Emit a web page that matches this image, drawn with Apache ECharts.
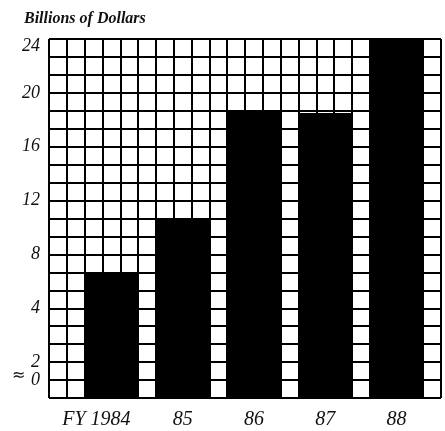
<!DOCTYPE html>
<html>
<head>
<meta charset="utf-8">
<script src="https://cdn.jsdelivr.net/npm/echarts@6/dist/echarts.min.js"></script>
<style>
  html, body { margin: 0; padding: 0; background: #fff; }
  #chart { width: 445px; height: 431px; }
</style>
</head>
<body>
<div id="chart"></div>
<script>
// Fiscal years and outlays (billions of dollars)
const years = ['FY 1984', '85', '86', '87', '88'];
const outlays = [6.6, 10.7, 18.6, 18.5, 24.0];

// Value-axis tick labels; the bottom of the scale is broken (≈)
const yTickValues = [24, 20, 16, 12, 8, 4, 0, -4 / 3];
const yTickLabels = ['24', '20', '16', '12', '8', '4', '2', '0'];

// Background lattice: 22 columns by 20 rows
const latticeCols = 22;
const latticeRows = 20;

const plot = { left: 49, top: 39, width: 392, height: 359 };
const cell = plot.width / latticeCols;
const serif = '"Liberation Serif", "DejaVu Serif", serif';

const chart = echarts.init(document.getElementById('chart'), null, { renderer: 'canvas' });

chart.setOption({
  animation: false,
  backgroundColor: '#fff',
  title: {
    text: 'Billions of Dollars',
    left: 19,
    top: 6,
    textStyle: { fontFamily: serif, fontStyle: 'italic', fontWeight: 'bold', fontSize: 16, color: '#111' }
  },
  graphic: [{
    type: 'text',
    left: 12,
    top: 368,
    style: { text: '\u2248', font: '16px "DejaVu Sans", sans-serif', fill: '#111' }
  }],
  grid: [
    { left: plot.left, top: plot.top, width: plot.width, height: plot.height },
    { left: plot.left + 1.5 * cell, top: plot.top, width: (latticeCols - 2) * cell, height: plot.height }
  ],
  xAxis: [
    {
      gridIndex: 0, type: 'value', min: 0, max: latticeCols, interval: 1,
      axisLine: { show: false }, axisTick: { show: false }, axisLabel: { show: false },
      splitLine: { show: true, lineStyle: { color: '#000', width: 2 } }
    },
    {
      gridIndex: 1, type: 'category', data: years.map(function (y, i) {
        return i === 0 ? { value: y, textStyle: { padding: [0, 30, 0, 0] } } : y;
      }),
      axisLine: { show: false }, axisTick: { show: false },
      axisLabel: { interval: 0, hideOverlap: false, margin: 12, fontFamily: serif, fontStyle: 'italic', fontSize: 20, color: '#111' },
      splitLine: { show: false }
    }
  ],
  yAxis: [
    {
      gridIndex: 0, type: 'value', min: 0, max: latticeRows, interval: 1,
      axisLine: { show: false }, axisTick: { show: false }, axisLabel: { show: false },
      splitLine: { show: true, lineStyle: { color: '#000', width: 2 } }
    },
    {
      gridIndex: 1, type: 'value', min: -8 / 3, max: 24, interval: 4 / 3, startValue: -8 / 3,
      axisLine: { show: false }, axisTick: { show: false }, splitLine: { show: false },
      axisLabel: {
        margin: 1.5 * cell + 9,
        fontFamily: serif, fontStyle: 'italic', fontSize: 18, color: '#111',
        rich: { top: { fontFamily: serif, fontStyle: 'italic', fontSize: 18, color: '#111', padding: [14, 0, 0, 0] } },
        formatter: function (v) {
          for (let i = 0; i < yTickValues.length; i++) {
            if (Math.abs(v - yTickValues[i]) < 0.01) {
              return i === 0 ? '{top|' + yTickLabels[i] + '}' : yTickLabels[i];
            }
          }
          return '';
        }
      }
    }
  ],
  series: [{
    type: 'bar',
    xAxisIndex: 1,
    yAxisIndex: 1,
    data: outlays,
    barWidth: '75%',
    itemStyle: { color: '#000' },
    z: 5
  }]
});
</script>
</body>
</html>
